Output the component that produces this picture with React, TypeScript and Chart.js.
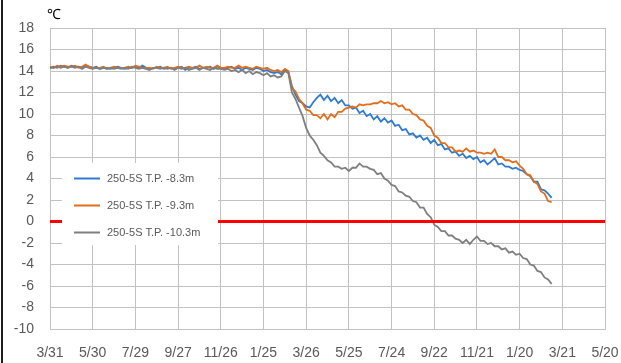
import React, { useEffect, useRef } from 'react';
import { Chart, registerables } from 'chart.js';

Chart.register(...registerables);

// ---- data ----
const xTickLabels = ['3/31', '5/30', '7/29', '9/27', '11/26', '1/25', '3/26', '5/25', '7/24', '9/22', '11/21', '1/20', '3/21', '5/20'];
const xMin = 0;
const xMax = 780;
const xTickStep = 60; // days between tick labels
const dayStep = 5; // days between samples
const yTicks = { min: -10, max: 18, step: 2 };
const unitLabel = '℃';
const seriesNames = ['250-5S T.P. -8.3m', '250-5S T.P. -9.3m', '250-5S T.P. -10.3m'];

const tp83 = [
  14.3, 14.4, 14.3, 14.5, 14.4, 14.3, 14.5, 14.4, 14.4, 14.3,
  14.5, 14.4, 14.3, 14.4, 14.2, 14.3, 14.3, 14.2, 14.3, 14.4,
  14.3, 14.2, 14.3, 14.3, 14.4, 14.3, 14.5, 14.3, 14.2, 14.3,
  14.3, 14.4, 14.2, 14.3, 14.3, 14.2, 14.3, 14.4, 14.1, 14.3,
  14.3, 14.4, 14.2, 14.3, 14.3, 14.4, 14.2, 14.4, 14.3, 14.2,
  14.3, 14.4, 14.2, 14.3, 14.1, 14.3, 14.2, 14.1, 14.3, 14.2,
  14.0, 14.1, 13.9, 13.8, 13.9, 13.7,
  14.1, 13.9, 12.6, 11.8, 11.2, 11.0, 10.7, 10.6, 11.1, 11.5,
  11.8, 11.3, 11.7, 11.2, 11.5, 11.0, 11.3, 10.8, 10.8, 10.5,
  10.6, 10.1, 10.3, 9.8, 10.0, 9.5, 9.8, 9.3, 9.6, 9.2,
  9.4, 8.9, 9.0, 8.5, 8.6, 8.1, 8.2, 7.8, 8.0, 7.6,
  7.8, 7.3, 7.6, 7.1, 7.2, 6.7, 6.8, 6.4, 6.5, 6.1,
  6.3, 5.9, 6.1, 5.8, 6.0, 5.5, 5.7, 5.3, 5.6, 5.9,
  5.3, 5.4, 5.1, 5.1, 4.9, 5.0, 4.8, 4.7, 4.4, 4.2,
  3.7, 3.7, 3.0, 2.9, 2.6, 2.2,
];

const tp93 = [
  14.4, 14.3, 14.5, 14.4, 14.5, 14.4, 14.4, 14.5, 14.3, 14.4,
  14.6, 14.4, 14.3, 14.3, 14.3, 14.4, 14.2, 14.3, 14.4, 14.3,
  14.3, 14.3, 14.4, 14.3, 14.5, 14.4, 14.3, 14.3, 14.3, 14.2,
  14.4, 14.3, 14.3, 14.4, 14.2, 14.3, 14.4, 14.3, 14.3, 14.4,
  14.3, 14.3, 14.5, 14.3, 14.4, 14.3, 14.3, 14.5, 14.3, 14.3,
  14.4, 14.3, 14.3, 14.5, 14.3, 14.4, 14.3, 14.2, 14.4, 14.3,
  14.2, 14.3, 14.1, 14.0, 14.1, 13.9,
  14.2, 14.0, 12.4, 12.1, 11.4, 11.0, 10.4, 10.3, 9.9, 9.9,
  9.6, 10.0, 9.5, 10.0, 9.7, 10.2, 10.2, 10.5, 10.6, 10.7,
  10.6, 10.9, 10.8, 10.9, 10.9, 11.0, 11.0, 11.2, 11.0, 11.1,
  10.9, 11.0, 10.7, 10.8, 10.4, 10.4, 10.0, 9.9, 9.5, 9.4,
  8.9, 8.7, 8.0, 7.8, 7.3, 7.3, 6.9, 6.9, 6.5, 6.6,
  6.5, 6.8, 6.5, 6.6, 6.4, 6.4, 6.3, 6.4, 6.3, 6.7,
  6.0, 6.0, 5.7, 5.7, 5.5, 5.6, 5.2, 4.9, 4.4, 4.3,
  3.7, 3.5, 2.8, 2.6, 1.9, 1.8,
];

const tp103 = [
  14.3, 14.3, 14.4, 14.3, 14.4, 14.3, 14.4, 14.3, 14.4, 14.2,
  14.4, 14.3, 14.2, 14.3, 14.2, 14.3, 14.2, 14.3, 14.2, 14.3,
  14.2, 14.3, 14.2, 14.4, 14.3, 14.2, 14.3, 14.2, 14.1, 14.3,
  14.3, 14.2, 14.3, 14.2, 14.3, 14.1, 14.3, 14.2, 14.3, 14.1,
  14.2, 14.3, 14.1, 14.3, 14.2, 14.1, 14.3, 14.2, 14.2, 14.1,
  14.2, 14.0, 14.1, 13.9, 14.1, 13.8, 14.0, 13.7, 13.9, 13.8,
  13.6, 13.8, 13.5, 13.6, 13.4, 13.5,
  14.0, 13.8, 12.0, 11.4, 10.6, 9.8, 8.7, 8.0, 7.6, 7.1,
  6.4, 6.1, 5.7, 5.5, 5.1, 5.1, 4.9, 5.0, 4.7, 5.0,
  5.0, 5.4, 5.1, 5.1, 4.9, 4.8, 4.4, 4.5, 4.0, 3.8,
  3.4, 3.3, 2.8, 2.7, 2.4, 2.3, 1.9, 1.8, 1.3, 1.3,
  0.7, 0.4, -0.3, -0.5, -0.9, -0.9, -1.3, -1.3, -1.6, -1.7,
  -2.0, -1.7, -2.1, -1.7, -1.4, -1.8, -1.8, -2.1, -2.0, -2.3,
  -2.3, -2.6, -2.5, -2.9, -2.8, -3.1, -3.0, -3.4, -3.5, -4.0,
  -4.1, -4.6, -4.7, -5.2, -5.4, -5.8,
];

const zeroLevel = 0;

// ---- styles ----
const FONT = "'Liberation Sans', Arial, sans-serif";
const colors = ['#2e7bd0', '#e26d1c', '#7f7f7f'];
const GRID = '#c2c2c2';
const TEXT = '#595959';

const toPoints = (vals: number[]) => vals.map((v, i) => ({ x: i * dayStep, y: v }));

const legendPlugin = {
  id: 'insideLegend',
  afterDatasetsDraw(chart: any) {
    const { ctx, chartArea } = chart;
    const bx = chartArea.left + 12;
    const by = chartArea.top + 135;
    ctx.save();
    ctx.fillStyle = '#ffffff';
    ctx.fillRect(bx, by, 156, 82);
    ctx.font = `11px ${FONT}`;
    ctx.textBaseline = 'middle';
    ctx.textAlign = 'left';
    chart.data.datasets.forEach((ds: any, i: number) => {
      if (!ds.inLegend) return;
      const y = by + 15 + i * 27;
      ctx.strokeStyle = ds.borderColor;
      ctx.lineWidth = 2;
      ctx.beginPath();
      ctx.moveTo(bx + 12, y + 0.5);
      ctx.lineTo(bx + 38, y + 0.5);
      ctx.stroke();
      ctx.fillStyle = TEXT;
      ctx.fillText(ds.label, bx + 45, y + 1);
    });
    ctx.restore();
  },
  afterDraw(chart: any) {
    const { ctx, chartArea } = chart;
    ctx.save();
    ctx.fillStyle = '#000000';
    ctx.font = `14px ${FONT}`;
    ctx.textAlign = 'left';
    ctx.textBaseline = 'middle';
    ctx.fillText(unitLabel, chartArea.left - 3, chartArea.top - 13);
    ctx.fillStyle = '#1c1c1c';
    ctx.fillRect(1, 0, 2, chart.height);
    ctx.restore();
  },
};

export default function App() {
  const ref = useRef<HTMLCanvasElement | null>(null);

  useEffect(() => {
    if (!ref.current) return;
    const series = [tp83, tp93, tp103];
    const datasets: any[] = series.map((vals, i) => ({
      label: seriesNames[i],
      data: toPoints(vals),
      borderColor: colors[i],
      backgroundColor: colors[i],
      borderWidth: 1.8,
      pointRadius: 0,
      tension: 0,
      fill: false,
      order: 3 - i,
      inLegend: true,
    }));
    datasets.push({
      label: 'zero',
      data: [
        { x: xMin, y: zeroLevel },
        { x: xMax, y: zeroLevel },
      ],
      borderColor: '#ff0000',
      borderWidth: 3,
      pointRadius: 0,
      fill: false,
      order: 0,
      inLegend: false,
    });

    const chart = new Chart(ref.current, {
      type: 'line',
      data: { datasets },
      options: {
        animation: false,
        responsive: false,
        events: [],
        layout: { padding: { left: 0, right: 16, top: 28, bottom: 0 } },
        plugins: { legend: { display: false }, tooltip: { enabled: false } },
        scales: {
          x: {
            type: 'linear',
            min: xMin,
            max: xMax,
            afterFit: (s: any) => {
              s.height = 34;
              s.paddingLeft = 0;
              s.paddingRight = 0;
            },
            grid: { color: GRID, drawTicks: false, lineWidth: 1 },
            border: { color: GRID },
            ticks: {
              stepSize: xTickStep,
              autoSkip: false,
              maxRotation: 0,
              padding: 16,
              color: TEXT,
              font: { family: FONT, size: 14 },
              callback: (v: any) => xTickLabels[Math.round(v / xTickStep)] ?? '',
            },
          },
          y: {
            type: 'linear',
            min: yTicks.min,
            max: yTicks.max,
            afterFit: (s: any) => {
              s.width = 50;
              s.paddingTop = 0;
              s.paddingBottom = 0;
            },
            grid: { color: GRID, drawTicks: false, lineWidth: 1 },
            border: { color: GRID },
            ticks: {
              stepSize: yTicks.step,
              padding: 16,
              color: TEXT,
              font: { family: FONT, size: 14 },
            },
          },
        },
      } as any,
      plugins: [legendPlugin],
    });
    return () => chart.destroy();
  }, []);

  return (
    <div style={{ position: 'absolute', left: 0, top: 0, width: 621, height: 363, background: '#fff' }}>
      <canvas ref={ref} width={621} height={363} style={{ display: 'block' }} />
    </div>
  );
}
